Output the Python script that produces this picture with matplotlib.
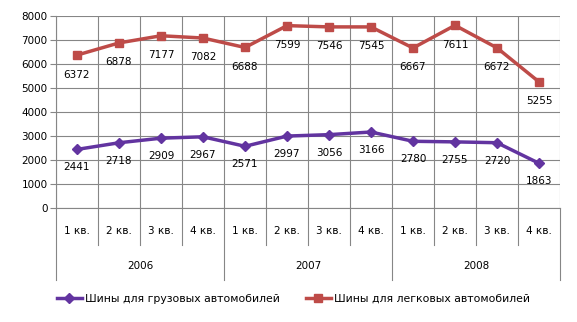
import matplotlib.pyplot as plt
import numpy as np

quarters = ['1 кв.', '2 кв.', '3 кв.', '4 кв.'] * 3
years = ['2006', '2007', '2008']
trucks = [2441, 2718, 2909, 2967, 2571, 2997, 3056, 3166, 2780, 2755, 2720, 1863]
cars = [6372, 6878, 7177, 7082, 6688, 7599, 7546, 7545, 6667, 7611, 6672, 5255]
truck_name = 'Шины для грузовых автомобилей'
car_name = 'Шины для легковых автомобилей'

grid_col = '#868686'
purple = '#6234A0'
red = '#BE4B48'

fig = plt.figure(figsize=(5.77, 3.22), dpi=100)
ax = fig.add_axes([56/577, 1-208/322, 504/577, 192/322])

x = np.arange(len(trucks))
ax.plot(x, trucks, color=purple, lw=2.5, marker='D', ms=5.5, label=truck_name)
ax.plot(x, cars, color=red, lw=2.5, marker='s', ms=6, label=car_name)

for xi, v in zip(x, trucks):
    ax.annotate(str(v), (xi, v), xytext=(0, -13), textcoords='offset points',
                ha='center', va='center', fontsize=7.5)
for xi, v in zip(x, cars):
    ax.annotate(str(v), (xi, v), xytext=(0, -14), textcoords='offset points',
                ha='center', va='center', fontsize=7.5)

ax.set_xlim(-0.5, len(x) - 0.5)
ax.set_ylim(0, 8000)
ax.set_yticks(range(0, 8001, 1000))
ax.set_xticks(np.arange(-0.5, len(x)), minor=False)
ax.set_xticklabels([])
ax.tick_params(axis='x', length=0)
ax.tick_params(axis='y', length=4, color=grid_col, labelsize=7.5, pad=2)
ax.grid(True, color=grid_col, lw=0.8)
for s in ax.spines.values():
    s.set_visible(False)
ax.spines['left'].set_visible(True)
ax.spines['left'].set_color(grid_col)
ax.spines['bottom'].set_visible(True)
ax.spines['bottom'].set_color(grid_col)

# two-level category axis below the plot
trans = ax.get_xaxis_transform()
for i, q in enumerate(quarters):
    ax.text(i, -23/192, q, transform=trans, ha='center', va='center', fontsize=7.5)
for b in range(len(x) + 1):
    low = -72/192 if b % 4 == 0 else -37/192
    ax.plot([b - 0.5, b - 0.5], [0, low], transform=trans, color=grid_col,
            lw=0.8, clip_on=False)
for j, y in enumerate(years):
    ax.text(4*j + 1.5, -58/192, y, transform=trans, ha='center', va='center', fontsize=7.5)

fig.legend(loc='center left', bbox_to_anchor=(57/577, 1-299/322), ncol=2, frameon=False,
           fontsize=7.8, handlelength=2.3, columnspacing=2.4, handletextpad=0.3,
           borderpad=0, borderaxespad=0)

fig.savefig('out.png', dpi=100)
